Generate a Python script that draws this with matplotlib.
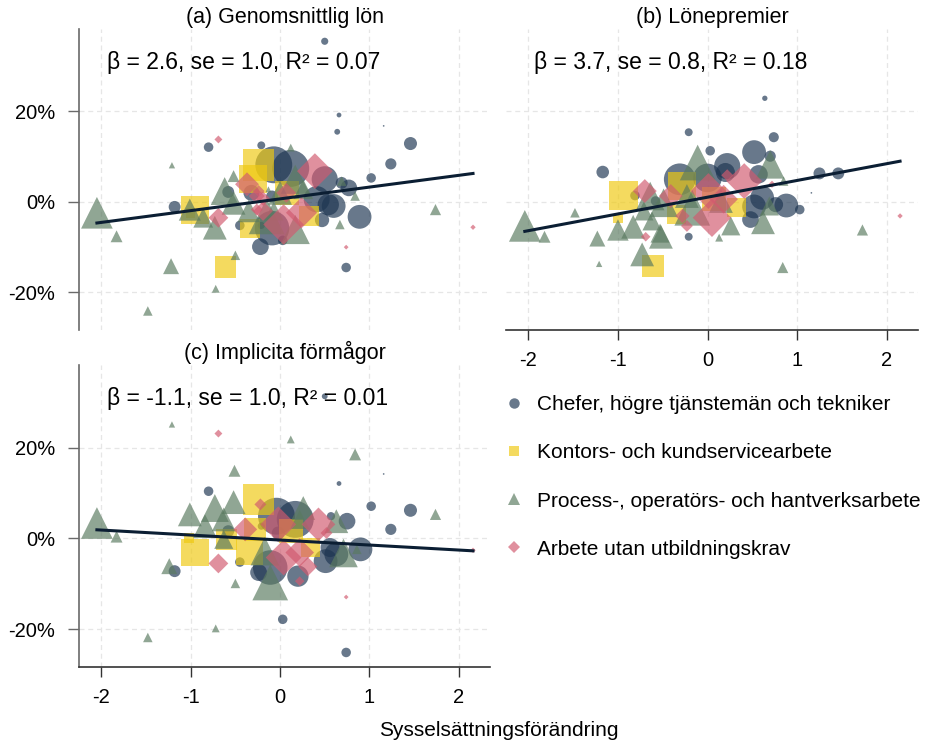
import numpy as np
import matplotlib
matplotlib.use("Agg")
import matplotlib.pyplot as plt
from matplotlib.ticker import FuncFormatter
from matplotlib.lines import Line2D

plt.rcParams['font.family'] = ['Liberation Sans', 'DejaVu Sans']

# punkter: (sysselsättningsförändring, förändring i %, vikt)
# (a) Genomsnittlig lön
a_chef = [(0.50, 35.5, 9), (0.66, 19.2, 4), (0.64, 15.5, 6), (1.16, 16.8, 0.5),
          (-0.80, 12.1, 16), (-0.21, 12.5, 11), (1.46, 12.9, 30), (1.24, 8.4, 22),
          (1.02, 5.3, 16), (-0.07, 8.2, 240), (0.12, 7.4, 240), (0.89, -3.3, 100),
          (-1.18, -1.1, 25), (-0.45, -5.2, 16), (-0.22, -9.9, 49), (0.03, -8.5, 16),
          (0.74, -14.5, 16), (-0.09, -5.8, 210), (0.47, -4.0, 36), (0.60, -0.9, 100),
          (0.50, 5.0, 120), (0.69, 4.2, 25), (0.77, 3.1, 49), (0.41, 0.6, 120),
          (-0.58, 2.2, 25), (0.54, -0.6, 80), (-0.21, -5.2, 9), (-0.32, 2.0, 45),
          (-0.09, 1.2, 25)]
a_kontor = [(-0.95, -1.7, 137), (-0.24, 8.2, 177), (-0.30, 5.1, 137), (-0.61, -14.4, 81),
            (-0.34, -5.9, 69), (0.32, -3.1, 69), (0.08, 2.0, 100), (-1.00, -2.5, 16)]
a_process = [(-2.05, -2.4, 177), (-1.83, -7.6, 25), (-1.21, 8.1, 7), (-1.22, -14.2, 45),
             (-1.48, -24.1, 16), (-0.72, -19.2, 11), (-0.50, -11.8, 16), (0.12, 12.0, 11),
             (1.74, -1.7, 22), (0.67, -5.0, 16), (0.84, 1.3, 16), (0.69, 4.6, 16),
             (-1.01, -1.7, 86), (-0.86, -3.5, 69), (-0.73, -5.7, 100), (-0.62, 2.4, 137),
             (-0.52, 5.7, 25), (-0.52, -0.2, 100), (-0.15, -3.2, 225), (0.17, -6.1, 150),
             (0.17, 5.0, 150), (0.00, 2.0, 100), (0.26, 2.8, 69), (-0.07, -2.0, 64),
             (-0.13, 2.8, 6), (-0.35, -2.0, 90)]
a_arbete = [(-0.69, 13.8, 11), (2.16, -5.6, 5), (0.74, -10.0, 4), (0.39, 6.8, 225),
            (-0.37, 3.9, 100), (-0.69, -3.5, 69), (-0.26, 1.3, 45), (0.04, -5.0, 289),
            (0.24, -2.4, 170), (-0.19, -2.0, 69), (0.07, 2.0, 69), (-0.24, 2.4, 25),
            (-0.26, -1.7, 25), (-0.19, 0.7, 36)]

# (b) Lönepremier
b_chef = [(0.64, 22.9, 5), (-0.21, 15.4, 11), (0.74, 14.3, 18), (-1.17, 6.6, 28),
          (0.03, 11.3, 16), (0.52, 11.0, 100), (0.70, 10.1, 22), (1.25, 6.3, 25),
          (1.46, 6.3, 25), (1.16, 2.0, 0.5), (-0.31, 5.0, 177), (0.00, 5.3, 144),
          (0.22, 7.9, 121), (0.88, -0.8, 100), (1.03, -1.7, 16), (0.61, 0.9, 100),
          (0.76, -0.6, 40), (0.48, -3.9, 49), (0.52, -1.0, 100), (-0.21, -7.7, 11),
          (-0.58, 0.2, 16), (-0.81, 1.4, 16), (0.57, 6.1, 60), (0.20, 6.5, 64)]
b_kontor = [(-0.94, 1.4, 144), (-1.00, -3.7, 16), (-0.61, -14.2, 81), (-0.28, 3.5, 137),
            (-0.35, -2.8, 64), (0.32, -1.3, 64), (0.07, 0.6, 100)]
b_process = [(-2.04, -5.3, 177), (-1.82, -7.7, 25), (-1.48, -2.4, 16), (-1.21, -13.7, 7),
             (-1.23, -8.1, 45), (-1.00, -6.2, 81), (-0.83, -5.5, 100), (-0.73, -11.6, 100),
             (-0.52, -7.7, 100), (-0.62, -4.2, 64), (0.13, -7.9, 11), (0.26, -5.3, 64),
             (0.62, -4.5, 100), (0.84, -14.5, 22), (1.73, -6.2, 22), (-0.11, 8.7, 225),
             (0.70, 8.3, 144), (0.85, 4.6, 16), (-0.17, -1.3, 225), (-0.49, -0.2, 144),
             (-0.64, 1.3, 144), (-0.71, -2.0, 64), (-0.23, 1.3, 100), (0.15, 0.2, 100),
             (0.69, -0.9, 64), (-0.53, -6.9, 64)]
b_arbete = [(2.15, -3.1, 5), (-0.69, -7.7, 16), (-0.70, 2.4, 100), (0.05, -3.5, 260),
            (0.41, 4.6, 225), (0.01, 2.4, 225), (-0.41, 1.3, 100), (-0.23, -5.3, 25),
            (-0.28, -3.1, 36), (0.22, 5.9, 25), (0.18, 0.6, 144), (0.72, 3.9, 9)]

# (c) Implicita förmågor
c_chef = [(0.50, 31.3, 6), (0.66, 12.1, 4), (1.16, 14.2, 0.5), (-0.80, 10.4, 16),
          (1.02, 7.1, 16), (1.46, 6.2, 30), (1.24, 2.0, 22), (0.75, 3.8, 49),
          (0.57, 4.9, 12), (0.90, -2.4, 100), (-0.04, 4.9, 240), (0.17, 4.2, 240),
          (-0.11, -6.4, 210), (0.51, -5.0, 100), (0.63, -3.5, 100), (0.20, -8.3, 80),
          (-0.24, -7.5, 50), (-0.45, -5.2, 16), (-1.18, -7.2, 25), (0.03, -17.8, 16),
          (0.74, -25.1, 16), (-0.21, 2.7, 9), (-0.02, 1.2, 30), (0.56, -2.0, 64),
          (-0.58, 1.6, 25)]
c_kontor = [(-0.95, -3.1, 137), (-0.24, 8.6, 177), (-0.34, -2.8, 130), (-0.60, -0.2, 81),
            (0.12, 1.6, 100), (0.34, -2.0, 64), (-1.02, 0.1, 16), (-0.28, 2.0, 90)]
c_process = [(-2.05, 3.4, 177), (-1.83, 0.4, 25), (-1.21, 25.1, 7), (-1.24, -6.1, 45),
             (-1.48, -21.8, 16), (-0.72, -19.8, 11), (-0.50, -9.9, 16), (0.12, 21.8, 11),
             (1.74, 5.3, 22), (0.84, 18.5, 25), (-0.51, 14.9, 25), (-1.01, 5.3, 100),
             (-0.52, 8.0, 100), (-0.73, 6.7, 137), (-0.84, 2.7, 100), (-0.63, 4.2, 100),
             (-0.11, -9.7, 225), (0.26, 6.7, 100), (0.63, 3.8, 100), (0.71, -3.2, 144),
             (0.86, -2.4, 16), (0.22, 4.2, 64), (-0.17, -2.8, 144), (-0.63, -0.2, 64)]
c_arbete = [(-0.69, 23.1, 11), (2.16, -2.6, 5), (0.74, -12.9, 4), (0.43, 3.1, 200),
            (-0.69, -5.5, 69), (-0.22, 7.5, 25), (-0.39, 2.0, 100), (-0.02, 3.1, 225),
            (0.22, -9.4, 16), (0.22, -3.1, 144), (0.04, -4.2, 225), (0.31, -6.2, 64),
            (0.52, 1.2, 25)]

titles = ["(a) Genomsnittlig lön", "(b) Lönepremier", "(c) Implicita förmågor"]
beta = [2.6, 3.7, -1.1]
se = [1.0, 0.8, 1.0]
r2 = [0.07, 0.18, 0.01]
intercept = [0.67, 1.04, -0.35]

labels = ["Chefer, högre tjänstemän och tekniker",
          "Kontors- och kundservicearbete",
          "Process-, operatörs- och hantverksarbete",
          "Arbete utan utbildningskrav"]
colors = ["#1e3652", "#efc910", "#5a7a60", "#d15a6f"]
markers = ["o", "s", "^", "D"]
scale = [2.07, 2.07, 2.07, 1.04]
grow = 1.42
alpha = 0.67


def draw_panel(ax, groups, k, show_x, show_y):
    allx = []
    for pts, col, m, sc in zip(groups, colors, markers, scale):
        x = np.array([p[0] for p in pts])
        y = np.array([p[1] for p in pts])
        w = np.array([p[2] for p in pts])
        ax.scatter(x, y, s=w * sc * grow, c=col, marker=m, alpha=alpha, linewidths=0, zorder=2)
        allx.extend(x)
    xs = np.array([min(allx), max(allx)])
    ax.plot(xs, intercept[k] + beta[k] * xs, color="#0b1e33", lw=2.2, zorder=5)

    ax.set_xlim(-2.25, 2.35)
    ax.set_ylim(-28.3, 38.2)
    ax.set_xticks([-2, -1, 0, 1, 2])
    ax.set_yticks([-20, 0, 20])
    ax.yaxis.set_major_formatter(FuncFormatter(lambda v, p: f"{v:.0f}%"))
    ax.xaxis.set_major_formatter(FuncFormatter(lambda v, p: f"{v:.0f}"))
    ax.grid(True, color="#e6e6e6", linestyle=(0, (4, 3)), linewidth=0.9, zorder=0)
    ax.set_axisbelow(True)
    for s in ["top", "right"]:
        ax.spines[s].set_visible(False)
    ax.spines["left"].set_color("#6a6a6a")
    ax.spines["bottom"].set_color("#333333")
    ax.spines["left"].set_linewidth(1.2)
    ax.spines["bottom"].set_linewidth(1.2)
    ax.spines["bottom"].set_visible(show_x)
    ax.spines["left"].set_visible(show_y)
    ax.tick_params(axis="x", bottom=show_x, labelbottom=show_x, length=7, width=1,
                   color="#333333", labelsize=14.5, pad=8)
    ax.tick_params(axis="y", left=show_y, labelleft=show_y, length=8, width=1,
                   color="#6a6a6a", labelsize=14.5, pad=9)
    ax.set_title(titles[k], fontsize=15.5, pad=4)
    ax.text(0.068, 0.89, f"β = {beta[k]:.1f}, se = {se[k]:.1f}, R² = {r2[k]:.2f}",
            transform=ax.transAxes, fontsize=16.5, va="center", ha="left", zorder=6)


fig = plt.figure(figsize=(9.31, 7.43), dpi=100)
ax_a = fig.add_axes([0.0849, 0.5559, 0.4414, 0.405])
ax_b = fig.add_axes([0.5435, 0.5559, 0.4425, 0.405])
ax_c = fig.add_axes([0.0849, 0.1023, 0.4414, 0.4065])

draw_panel(ax_a, [a_chef, a_kontor, a_process, a_arbete], 0, False, True)
draw_panel(ax_b, [b_chef, b_kontor, b_process, b_arbete], 1, True, False)
draw_panel(ax_c, [c_chef, c_kontor, c_process, c_arbete], 2, True, True)

handles = [Line2D([], [], marker=m, color=c, alpha=alpha, linestyle="None",
                  markersize=ms, markeredgewidth=0)
           for m, c, ms in zip(markers, colors, [7.5, 7.5, 8, 6.5])]
fig.legend(handles, labels, loc="upper left", bbox_to_anchor=(0.5406, 0.468),
           frameon=False, fontsize=15, labelspacing=1.4, handletextpad=0.62,
           handlelength=1.0, borderpad=0, borderaxespad=0)

fig.text(0.536, 1 - 730 / 743, "Sysselsättningsförändring", ha="center", va="center",
         fontsize=15)

fig.savefig("out.png", dpi=100)
